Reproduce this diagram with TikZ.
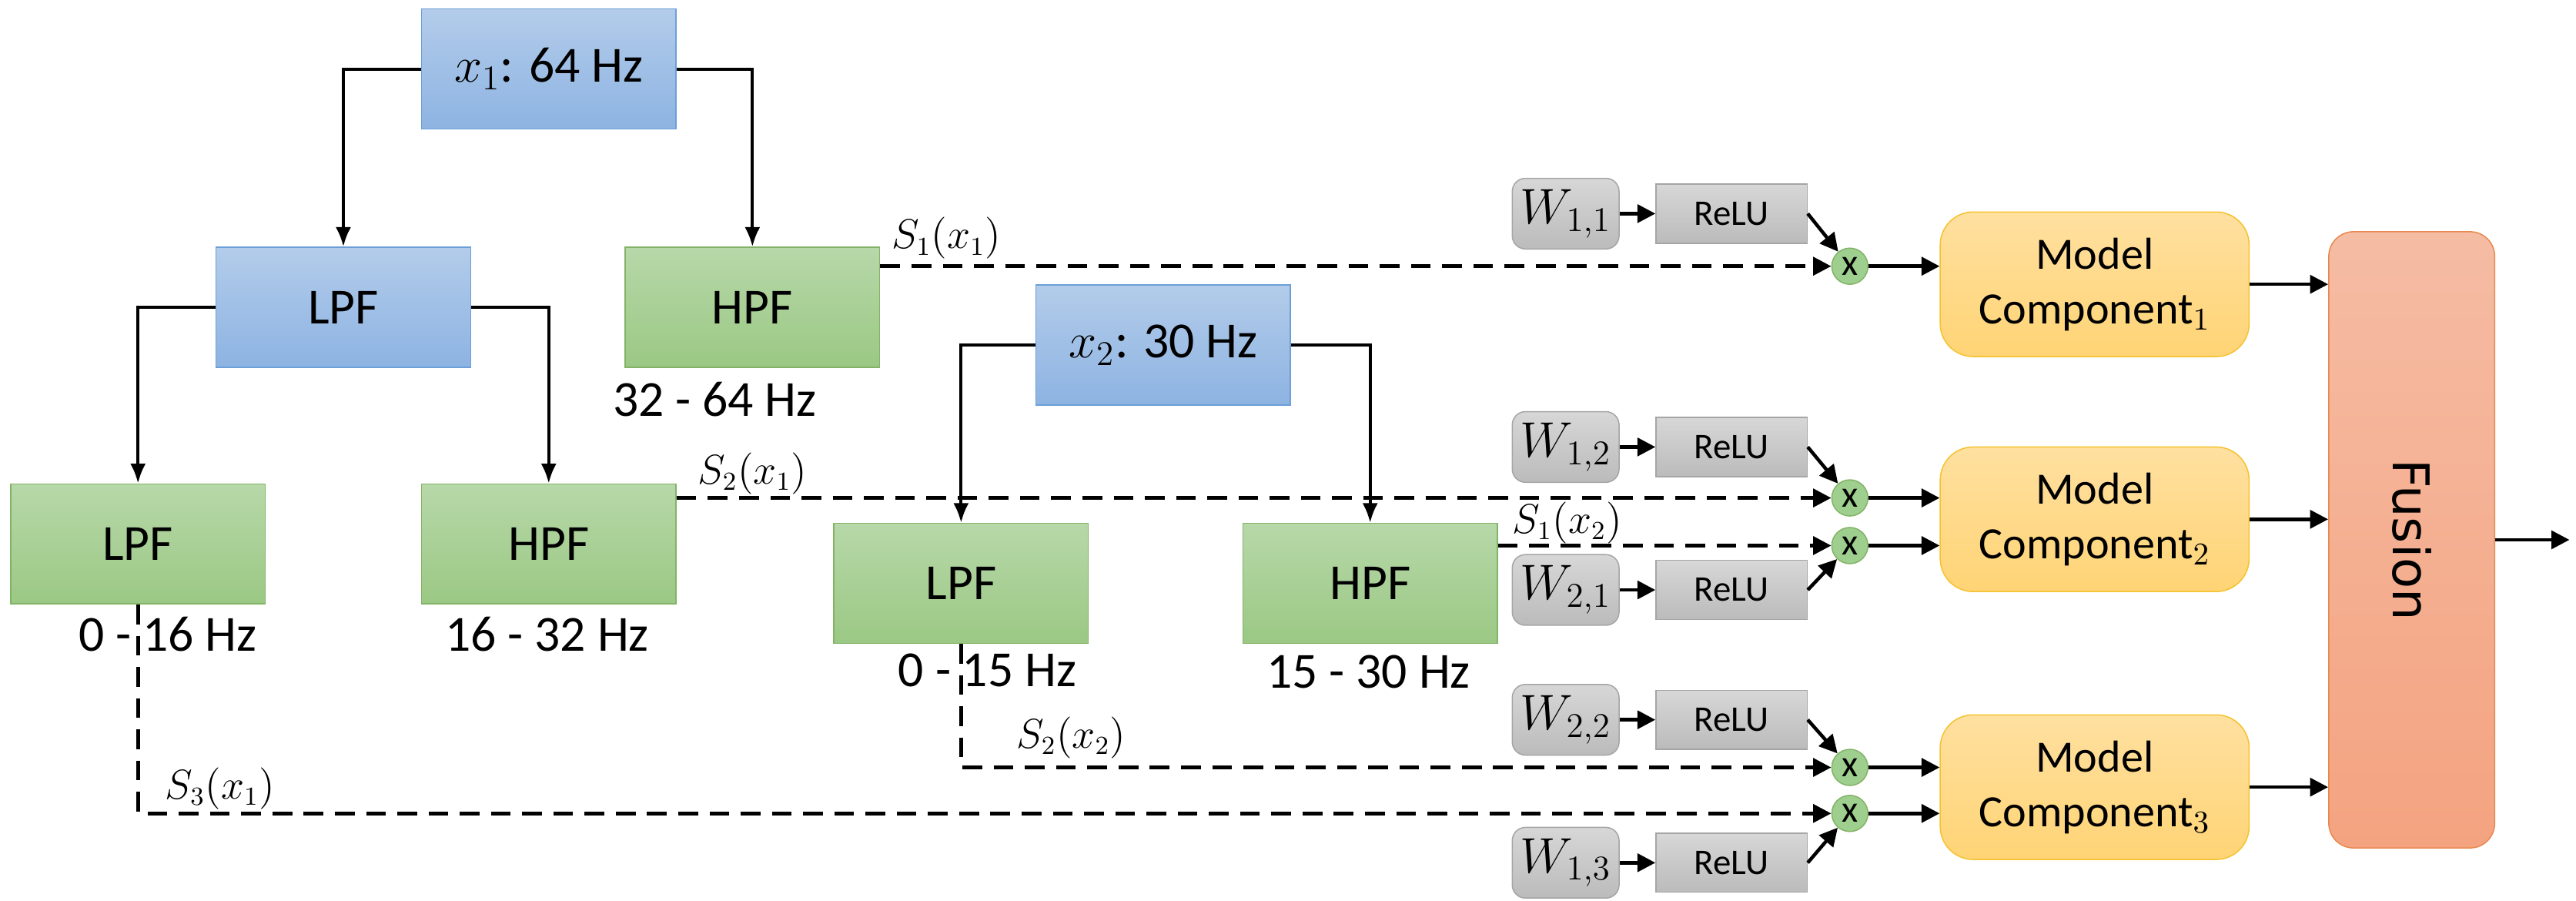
\documentclass[tikz,border=0pt]{standalone}
\usepackage{fontspec}
\setmainfont{Carlito}
\newfontfamily\fusfont{DejaVu Sans}
\usepackage{tikz}
\usetikzlibrary{arrows.meta, positioning, calc, shapes}

\definecolor{blueT}{HTML}{B3CCEA}
\definecolor{blueB}{HTML}{8DB3E2}
\definecolor{blueD}{HTML}{6C9FD8}
\definecolor{greenT}{HTML}{B7D8A9}
\definecolor{greenB}{HTML}{9BC884}
\definecolor{greenD}{HTML}{82B366}
\definecolor{grayT}{HTML}{D7D7D7}
\definecolor{grayB}{HTML}{BBBBBB}
\definecolor{grayD}{HTML}{A5A5A5}
\definecolor{yelT}{HTML}{FFE0A0}
\definecolor{yelB}{HTML}{FFD475}
\definecolor{yelD}{HTML}{F5C22E}
\definecolor{fusT}{HTML}{F5BCA4}
\definecolor{fusB}{HTML}{F4A380}
\definecolor{fusD}{HTML}{E8884E}
\definecolor{multF}{HTML}{9FCF8F}

\tikzset{
  filt/.style={minimum width=31mm, minimum height=14.6mm, inner sep=0pt,
    font=\fontsize{17.5}{20}\selectfont},
  bluebox/.style={filt, draw=blueD, top color=blueT, bottom color=blueB},
  greenbox/.style={filt, draw=greenD, top color=greenT, bottom color=greenB},
  band/.style={inner sep=0pt, font=\fontsize{17.5}{20}\selectfont},
  siglab/.style={inner sep=0pt, font=\fontsize{13.5}{15}\selectfont},
  wbox/.style={draw=grayD, top color=grayT, bottom color=grayB, rounded corners=1.6mm,
    minimum width=13mm, minimum height=8.6mm, inner sep=0pt, font=\fontsize{16.5}{18}\selectfont},
  relubox/.style={draw=grayD, top color=grayT, bottom color=grayB,
    minimum width=18.4mm, minimum height=7.2mm, inner sep=0pt, font=\fontsize{12.5}{14}\selectfont},
  mult/.style={circle, draw=greenD, fill=multF, minimum size=4.4mm, inner sep=0pt,
    font=\fontsize{13}{13}\selectfont},
  mcbox/.style={draw=yelD, top color=yelT, bottom color=yelB, rounded corners=4mm,
    minimum width=37.6mm, minimum height=17.6mm, align=center,
    font=\fontsize{15.5}{19}\selectfont},
  fusbox/.style={draw=fusD, top color=fusT, bottom color=fusB, rounded corners=3mm,
    minimum width=20.2mm, minimum height=75mm, inner sep=0pt,
    font=\fusfont\fontsize{17.5}{20}\selectfont},
  tree/.style={line width=1.1pt, -{Latex[length=2.4mm, width=1.9mm]}},
  blk/.style={line width=1.2pt, -{Triangle[length=2.2mm, width=2.2mm]}},
  sig/.style={blk, dash pattern=on 2.4mm off 1.4mm}
}

\begin{document}
\begin{tikzpicture}[x=0.2mm, y=-0.2mm]
  \useasboundingbox (0,0) rectangle (1568,548);

  % Filter tree of x1
  \node[bluebox] (x1) at (334,42) {$x_1$: 64 Hz};
  \node[bluebox] (lpfA) at (209,187) {LPF};
  \node[greenbox] (hpfA) at (458,187) {HPF};
  \node[greenbox] (lpfB) at (84,331) {LPF};
  \node[greenbox] (hpfB) at (334,331) {HPF};

  % Filter tree of x2
  \node[bluebox] (x2) at (708,210) {$x_2$: 30 Hz};
  \node[greenbox] (lpfC) at (585,355) {LPF};
  \node[greenbox] (hpfC) at (834,355) {HPF};

  % Bands
  \node[band] (bandA) at (435,243) {32 - 64 Hz};
  \node[band] (bandB) at (102,386) {0 - 16 Hz};
  \node[band] (bandC) at (333,386) {16 - 32 Hz};
  \node[band] (bandD) at (601,408) {0 - 15 Hz};
  \node[band] (bandE) at (833,409) {15 - 30 Hz};

  % Tree arrows
  \draw[tree] (x1.west) -| (lpfA.north);
  \draw[tree] (x1.east) -| (hpfA.north);
  \draw[tree] (lpfA.west) -| (lpfB.north);
  \draw[tree] (lpfA.east) -| (hpfB.north);
  \draw[tree] (x2.west) -| (lpfC.north);
  \draw[tree] (x2.east) -| (hpfC.north);

  % Multipliers
  \node[mult] (m1) at (1126,162) {x};
  \node[mult] (m2) at (1126,303) {x};
  \node[mult] (m3) at (1126,332) {x};
  \node[mult] (m4) at (1126,467) {x};
  \node[mult] (m5) at (1126,495) {x};

  % Weights
  \node[wbox] (w11) at (953,130) {$W_{1,1}$};
  \node[relubox] (r11) at (1054,130) {ReLU};
  \node[wbox] (w12) at (953,272) {$W_{1,2}$};
  \node[relubox] (r12) at (1054,272) {ReLU};
  \node[wbox] (w21) at (953,359) {$W_{2,1}$};
  \node[relubox] (r21) at (1054,359) {ReLU};
  \node[wbox] (w22) at (953,438) {$W_{2,2}$};
  \node[relubox] (r22) at (1054,438) {ReLU};
  \node[wbox] (w13) at (953,525) {$W_{1,3}$};
  \node[relubox] (r13) at (1054,525) {ReLU};

  \draw[blk] (w11) -- (r11);
  \draw[blk] (w12) -- (r12);
  \draw[blk] (w21) -- (r21);
  \draw[blk] (w22) -- (r22);
  \draw[blk] (w13) -- (r13);
  \draw[blk] (r11.east) -- (m1);
  \draw[blk] (r12.east) -- (m2);
  \draw[blk] (r21.east) -- (m3);
  \draw[blk] (r22.east) -- (m4);
  \draw[blk] (r13.east) -- (m5);

  % Sub-band signals
  \draw[sig] (hpfA.east |- m1) -- (m1.west);
  \draw[sig] (hpfB.east |- m2) -- (m2.west);
  \draw[sig] (hpfC.east |- m3) -- (m3.west);
  \draw[sig] (lpfC.south) |- (m4.west);
  \draw[sig] (lpfB.south) |- (m5.west);
  \node[siglab] at (576,145) {$S_1(x_1)$};
  \node[siglab] at (458,288) {$S_2(x_1)$};
  \node[siglab] at (954,318) {$S_1(x_2)$};
  \node[siglab] at (652,449) {$S_2(x_2)$};
  \node[siglab] at (134,480) {$S_3(x_1)$};

  % Model components and fusion
  \node[mcbox] (mc1) at (1275,173) {Model\\Component$_1$};
  \node[mcbox] (mc2) at (1275,316) {Model\\Component$_2$};
  \node[mcbox] (mc3) at (1275,479) {Model\\Component$_3$};
  \node[fusbox] (fus) at (1468,328.5) {\rotatebox{-90}{Fusion}};
  \coordinate (out) at (1564,328.5);

  \draw[blk] (m1) -- (m1 -| mc1.west);
  \draw[blk] (m2) -- (m2 -| mc2.west);
  \draw[blk] (m3) -- (m3 -| mc2.west);
  \draw[blk] (m4) -- (m4 -| mc3.west);
  \draw[blk] (m5) -- (m5 -| mc3.west);
  \draw[blk] (mc1.east) -- (mc1.east -| fus.west);
  \draw[blk] (mc2.east) -- (mc2.east -| fus.west);
  \draw[blk] (mc3.east) -- (mc3.east -| fus.west);
  \draw[blk] (fus.east) -- (out);
\end{tikzpicture}
\end{document}
